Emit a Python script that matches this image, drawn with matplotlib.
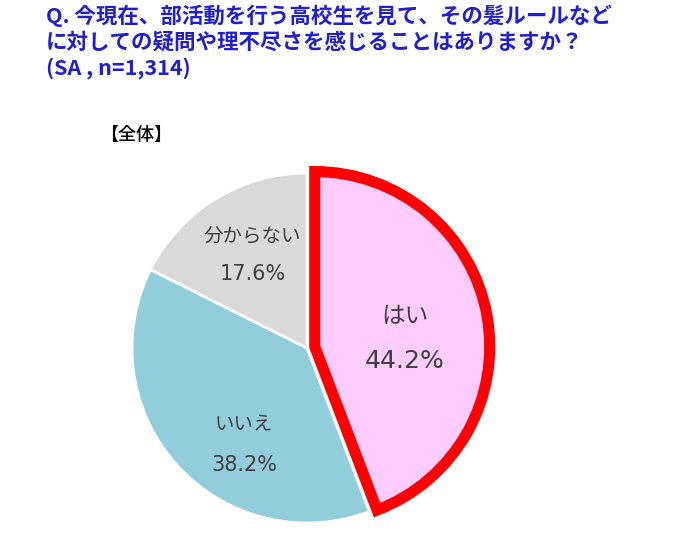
import matplotlib
matplotlib.use('Agg')
import matplotlib.pyplot as plt

plt.rcParams['font.family'] = ['Noto Sans CJK JP', 'DejaVu Sans']

labels = ['はい', 'いいえ', '分からない']
values = [44.2, 38.2, 17.6]
colors = ['#FFCCFF', '#92CDDC', '#D9D9D9']
title = 'Q. 今現在、部活動を行う高校生を見て、その髪ルールなど\nに対しての疑問や理不尽さを感じることはありますか？\n(SA , n=1,314)'

# label placement (data coords of the pie axes), name line / percent line
label_pos = [(0.56, 0.18, -0.075), (-0.36, -0.44, -0.67), (-0.31, 0.64, 0.42)]
name_size = [17, 14, 14]
pct_size = [18, 15, 15]


def plot():
    fig = plt.figure(figsize=(6.8, 5.52), dpi=100)
    fig.text(46 / 680, 1 - 5 / 552, title, color='#1F1FD0', fontsize=15.5,
             fontweight='bold', ha='left', va='top', linespacing=1.24)
    fig.text(100 / 680, 1 - 135 / 552, '【全体】', color='black', fontsize=13,
             fontweight='medium', ha='left', va='center')

    ax = fig.add_axes([132 / 680, 1 - 523 / 552, 350 / 680, 350 / 552])
    wedges, _ = ax.pie(values, colors=colors, startangle=90, counterclock=False,
                       explode=[0.045, 0, 0], radius=1,
                       wedgeprops=dict(edgecolor='white', linewidth=2))
    wedges[0].set_edgecolor('#FF0000')
    wedges[0].set_linewidth(8)
    wedges[0].set_joinstyle('miter')
    wedges[0].set_zorder(5)

    for i, (x, yn, yp) in enumerate(label_pos):
        ax.text(x, yn, labels[i], ha='center', va='center', color='#404040',
                fontsize=name_size[i], zorder=6)
        ax.text(x, yp, f'{values[i]:.1f}%', ha='center', va='center',
                color='#404040', fontsize=pct_size[i], family='DejaVu Sans',
                zorder=6)

    ax.set_xlim(-1, 1)
    ax.set_ylim(-1, 1)
    ax.set_aspect('equal')
    ax.axis('off')
    plt.savefig('out.png', dpi=100)


if __name__ == '__main__':
    plot()
